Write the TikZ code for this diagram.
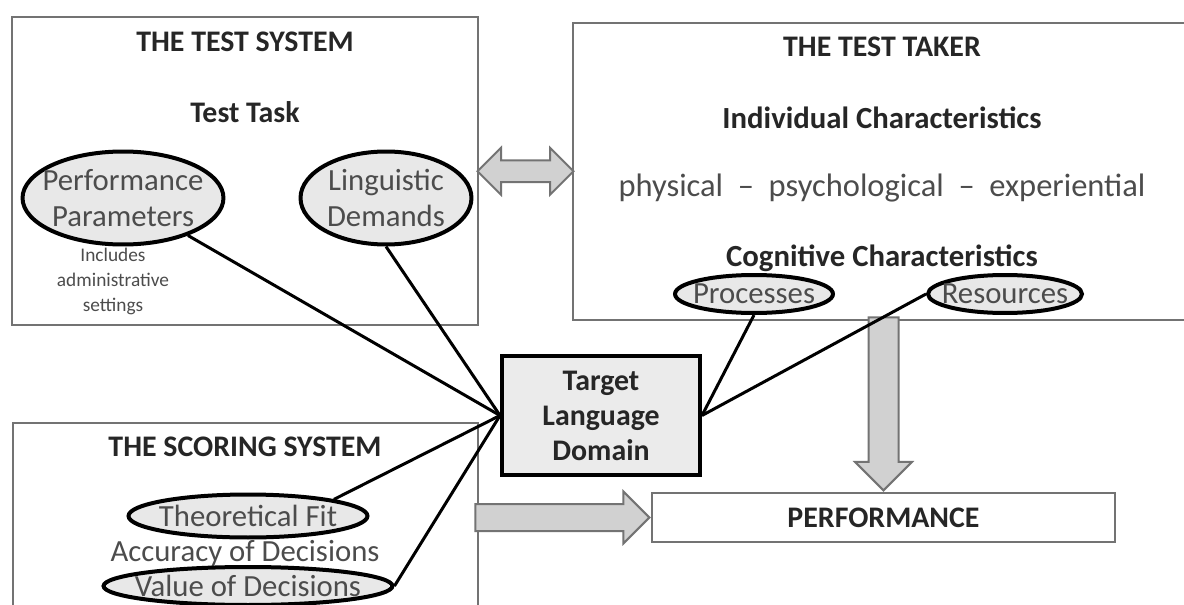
\documentclass[tikz,border=0pt]{standalone}
\usepackage{fontspec}
\setmainfont{Carlito}
\usetikzlibrary{shapes.geometric,shapes.arrows,calc}

\tikzstyle{sysbox} = [rectangle, draw=black!55, line width=0.5mm, inner sep=0pt]
\tikzstyle{bubble} = [ellipse, draw, line width=0.8mm, fill=black!9, inner sep=0pt]
\tikzstyle{heading} = [font=\fontsize{17}{20}\selectfont\bfseries, text=black!85]
\tikzstyle{plain} = [font=\fontsize{17.5}{20.5}\selectfont, text=black!70]
\tikzstyle{link} = [draw, line width=0.6mm]
\tikzstyle{bigarrow} = [single arrow, draw=black!55, fill=black!18, line width=0.4mm,
		inner xsep=0pt]

\begin{document}
\begin{tikzpicture}[x=0.02cm, y=-0.02cm]
		\useasboundingbox (0,0) rectangle (1184,605);
		%Boxes
		\node [sysbox, minimum width=9.32cm, minimum height=6.16cm] (testsys) at (245,171) {};
		\node [sysbox, minimum width=12.54cm, minimum height=5.94cm] (taker) at (886.5,171.5) {};
		\node [sysbox, minimum width=9.3cm, minimum height=4.34cm] (scoring) at (245.5,531.5) {};
		\node [sysbox, minimum width=9.26cm, minimum height=0.98cm, heading] (perf) at (883.5,517.5) {PERFORMANCE};
		\node [rectangle, draw, line width=0.8mm, fill=black!8, minimum width=3.96cm, minimum height=2.38cm,
			heading, align=center, font=\fontsize{17}{19.9}\selectfont\bfseries] (tld) at (601,415.5) {Target\\Language\\Domain};
		
		%Test system
		\node [heading] (sysname) at (245,42) {THE TEST SYSTEM};
		\node [heading] (task) at (245,112) {Test Task};
		\node [bubble, minimum width=4.02cm, minimum height=1.86cm,
			label={[plain, align=center]center:Performance\\Parameters}] (pp) at (123,198) {};
		\node [bubble, minimum width=3.42cm, minimum height=1.86cm,
			label={[plain, align=center]center:Linguistic\\Demands}] (ld) at (386,198) {};
		\node [align=center, text=black!70, font=\fontsize{11}{14.2}\selectfont] (admin) at (113,281) {Includes\\administrative\\settings};
		
		%Test taker
		\node [heading] (takername) at (882,47) {THE TEST TAKER};
		\node [heading, font=\fontsize{17.5}{20}\selectfont\bfseries] (indiv) at (882,118) {Individual Characteristics};
		\node [plain, font=\fontsize{18.5}{22}\selectfont] (traits) at (882,188) {physical \ -- \ psychological \ -- \ experiential};
		\node [heading, font=\fontsize{17.5}{20}\selectfont\bfseries] (cogn) at (882,258) {Cognitive Characteristics};
		\node [bubble, minimum width=3.16cm, minimum height=0.76cm,
			label={[plain]center:Processes}] (proc) at (754,294) {};
		\node [bubble, minimum width=3.08cm, minimum height=0.76cm,
			label={[plain]center:Resources}] (res) at (1005,294) {};
		
		%Scoring system
		\node [heading] (scorename) at (245,447) {THE SCORING SYSTEM};
		\node [bubble, minimum width=4.78cm, minimum height=0.86cm,
			label={[plain]center:Theoretical Fit}] (tf) at (248,516) {};
		\node [plain] (acc) at (245,553) {Accuracy of Decisions};
		\node [bubble, minimum width=5.78cm, minimum height=0.76cm,
			label={[plain]center:Value of Decisions}] (vod) at (248,586) {};
		
		%arrows
		\node [double arrow, draw=black!55, fill=black!18, line width=0.4mm, inner xsep=0pt, inner ysep=0.2cm,
			double arrow head extend=0.25cm, minimum height=1.92cm] (swap) at ($(testsys.east)!0.5!(taker.west)$) {};
		\node [bigarrow, inner ysep=0.28cm, single arrow head extend=0.27cm, minimum height=3.46cm,
			rotate=-90, anchor=tip] (down) at (perf.north) {};
		\node [bigarrow, inner ysep=0.25cm, single arrow head extend=0.25cm, minimum height=3.48cm,
			anchor=tip] (right) at (perf.west) {};
		
		%links
		\draw [link] (pp) -- (tld.west);
		\draw [link] (ld.south) -- (tld.west);
		\draw [link] (tf.north east) -- (tld.west);
		\draw [link] (vod.east) -- (tld.west);
		\draw [link] (proc.south) -- (tld.east);
		\draw [link] (res.west) -- (tld.east);
		
\end{tikzpicture}
\end{document}
